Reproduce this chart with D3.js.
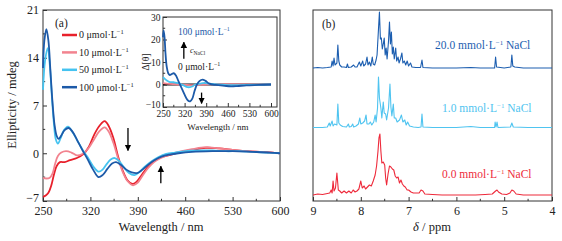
<!DOCTYPE html>
<html>
<head>
<meta charset="utf-8">
<script src="https://cdn.jsdelivr.net/npm/d3@7"></script>
<style>
  body { margin: 0; background: #fff; }
  svg { font-family: "Liberation Serif", "DejaVu Serif", serif; }
</style>
</head>
<body>
<svg id="chart" width="562" height="241"></svg>
<script>
// ---- CD spectra, main panel (wavelength nm, ellipticity mdeg) ----
var cd0 = [[250,-6.4],[254,-6.2],[258,-5.8],[262,-4.8],[266,-3.2],[270,-1.9],[275,-1.3],[282,-1.3],[290,-1.0],[300,-0.7],[310,-0.1],[318,1.0],[326,2.8],[334,4.1],[341,4.7],[347,4.0],[354,2.2],[361,-0.5],[368,-2.6],[375,-4.0],[382,-4.5],[388,-4.2],[395,-3.3],[403,-2.2],[412,-1.3],[422,-0.7],[435,-0.3],[450,0.1],[470,0.5],[490,0.8],[510,0.7],[530,0.5],[550,0.3],[575,0.2],[600,0.0]]
var cd10 = [[250,-3.6],[255,-3.7],[260,-3.6],[264,-3.0],[268,-1.5],[272,-0.4],[277,0.1],[284,0.3],[292,0.1],[300,-0.3],[308,-0.1],[316,0.6],[324,1.8],[333,3.2],[341,3.8],[347,3.2],[354,1.5],[361,-0.8],[368,-2.8],[375,-4.1],[383,-4.7],[390,-4.3],[397,-3.3],[405,-2.2],[414,-1.3],[424,-0.7],[436,-0.2],[450,0.2],[470,0.6],[490,0.9],[510,0.7],[530,0.5],[550,0.3],[575,0.2],[600,0.0]]
var cd50 = [[250,9.3],[253,13.5],[257,15.4],[260,13],[263,8.5],[266,4.5],[269,2.0],[272,1.4],[276,2.2],[281,3.4],[287,3.9],[293,3.2],[300,2.0],[308,0.6],[316,-0.6],[324,-1.9],[332,-2.7],[338,-2.4],[344,-1.6],[350,-0.9],[356,-0.7],[362,-1.1],[369,-2.0],[377,-2.9],[385,-3.2],[392,-2.8],[400,-2.0],[410,-1.2],[420,-0.6],[432,-0.1],[445,0.1],[460,0.3],[480,0.4],[500,0.4],[520,0.3],[540,0.3],[560,0.2],[580,0.1],[600,0.0]]
var cd100 = [[250,12.5],[252,16.5],[255,18.2],[258,16.5],[261,12],[264,7.5],[267,4.2],[270,2.6],[273,2.1],[277,2.6],[282,3.4],[288,3.7],[294,3.1],[300,2.0],[308,0.5],[316,-0.9],[324,-2.4],[332,-3.5],[338,-3.2],[345,-2.3],[352,-1.5],[358,-1.3],[365,-1.7],[373,-2.4],[381,-2.8],[389,-2.9],[397,-2.4],[405,-1.7],[415,-1.0],[425,-0.5],[437,-0.2],[450,0.0],[470,0.2],[500,0.3],[530,0.3],[560,0.2],[585,0.1],[600,0.0]]

// ---- inset: difference spectra ----
var ins0 = [[250,0],[600,0]]
var ins10 = [[250,0.6],[270,0.3],[300,0.0],[340,-0.3],[400,0.1],[600,0]]
var ins50 = [[250,3.3],[256,2.5],[262,1.8],[270,1.2],[285,1.0],[300,0.6],[315,-0.3],[330,-1.2],[342,-1.0],[355,0],[370,0.4],[385,0.7],[400,0.4],[430,0.1],[470,-0.3],[520,-0.2],[600,0]]
var ins100 = [[250,21],[252,24],[255,21],[258,14],[262,8],[267,5],[272,4.2],[278,4.6],[285,5.0],[292,4.0],[300,1.5],[310,-1.5],[320,-4.5],[330,-7.0],[338,-7.5],[345,-6.3],[352,-3],[360,0],[368,1.5],[378,2.2],[388,1.6],[400,0.4],[420,-0.2],[450,-0.6],[470,-0.8],[490,-0.7],[520,-0.4],[560,-0.2],[600,0]]

var cdLabels = ["0", "10", "50", "100"]
var cdColors = ["#e8202b", "#f2838f", "#45c3f0", "#1d5aa8"]
var wlTicks = [250, 320, 390, 460, 530, 600]
var cdTicks = [-7, 0, 7, 14, 21]
var insTicks = [-10, 0, 10, 20, 30]

// ---- 1H NMR spectra (ppm, intensity) ----
var nmrHigh = [[9.0,1],[8.9,1.5],[8.8,1],[8.7,1.5],[8.62,2],[8.6,8],[8.58,3],[8.56,11],[8.54,4],[8.5,6],[8.48,24],[8.46,8],[8.44,4],[8.4,2],[8.35,2],[8.3,1.5],[8.28,5],[8.26,1.5],[8.2,2],[8.15,4],[8.12,2],[8.08,2],[8.05,5],[8.03,7],[8.0,3],[7.96,8],[7.94,3],[7.9,5],[7.87,12],[7.85,4],[7.82,7],[7.79,3],[7.76,12],[7.74,5],[7.71,4],[7.68,9],[7.66,14],[7.63,40],[7.61,57],[7.59,30],[7.57,31],[7.55,20],[7.53,25],[7.51,31],[7.49,14],[7.47,21],[7.45,10],[7.42,28],[7.40,47],[7.38,25],[7.36,37],[7.34,15],[7.32,22],[7.30,10],[7.27,21],[7.25,8],[7.22,12],[7.2,6],[7.17,10],[7.14,16],[7.12,6],[7.09,8],[7.06,4],[7.03,8],[7.0,3],[6.96,6],[6.93,2],[6.85,1.5],[6.75,1.5],[6.72,9],[6.70,1.5],[6.5,1],[6.2,1],[6.0,1],[5.7,1.5],[5.5,1],[5.2,1],[5.18,12],[5.16,2],[5.0,1],[4.86,2],[4.84,14],[4.82,3],[4.78,2],[4.6,1],[4.3,1],[4.0,1]]
var nmrMid = [[9.0,0.5],[8.8,0.5],[8.7,1],[8.66,5],[8.64,2],[8.6,7],[8.58,2],[8.55,4],[8.5,3],[8.48,24],[8.46,5],[8.43,3],[8.38,1.5],[8.3,1],[8.26,4],[8.24,1],[8.2,1.5],[8.17,4],[8.15,1],[8.1,2],[8.05,4],[8.02,10],[8.0,4],[7.96,5],[7.92,7],[7.89,13],[7.87,4],[7.83,4],[7.8,6],[7.77,3],[7.73,6],[7.7,13],[7.68,6],[7.65,20],[7.63,51],[7.61,30],[7.58,20],[7.56,10],[7.53,26],[7.51,15],[7.48,14],[7.46,8],[7.42,20],[7.39,44],[7.37,21],[7.35,12],[7.32,24],[7.30,10],[7.27,10],[7.24,6],[7.19,8],[7.15,13],[7.12,6],[7.08,8],[7.05,3],[7.02,6],[6.98,2],[6.9,1],[6.8,0.5],[6.74,1],[6.72,14],[6.70,1],[6.5,0.5],[6.0,0.5],[5.7,1.5],[5.5,0.5],[5.2,0.5],[5.19,6],[5.17,1],[5.15,6],[5.13,0.5],[4.87,1],[4.84,5],[4.81,1],[4.5,0.5],[4.0,0.5]]
var nmrLow = [[9.0,1],[8.9,2],[8.8,1.5],[8.7,2.5],[8.65,3],[8.62,6],[8.6,3],[8.58,15],[8.56,5],[8.53,8],[8.5,23],[8.47,6],[8.44,5],[8.4,3],[8.35,5],[8.3,3],[8.25,5],[8.2,3],[8.16,6],[8.12,4],[8.08,5],[8.04,7],[8.0,15],[7.97,8],[7.93,10],[7.9,7],[7.86,9],[7.82,11],[7.78,10],[7.74,15],[7.7,21],[7.67,30],[7.64,45],[7.62,58],[7.60,62],[7.58,45],[7.56,33],[7.53,34],[7.5,31],[7.48,18],[7.46,11],[7.43,22],[7.40,30],[7.37,29],[7.34,27],[7.31,26],[7.28,20],[7.25,18],[7.22,19],[7.19,13],[7.16,16],[7.13,12],[7.1,10],[7.07,9],[7.03,6],[7.0,6],[6.95,4],[6.9,3],[6.85,3],[6.78,3],[6.74,6],[6.70,5],[6.66,2],[6.5,1.5],[6.3,1],[6.0,1],[5.8,1],[5.6,1],[5.4,1.5],[5.25,2],[5.18,5],[5.15,6],[5.12,4],[5.05,2],[4.95,1.5],[4.88,3],[4.84,6],[4.8,5],[4.75,2],[4.6,1],[4.3,1],[4.0,1]]
var nmrLabels = ["0.0", "1.0", "20.0"]
var nmrColors = ["#ee2a3b", "#4fc4f0", "#1c5eb0"]
var nmrOffsets = [0, 68, 127]
var ppmTicks = [9, 8, 7, 6, 5, 4]

const svg = d3.select("#chart");
const axisColor = "#333";

// ---------- panel (a) ----------
const x = d3.scaleLinear().domain([250, 600]).range([43, 280]);
const y = d3.scaleLinear().domain([-7, 21]).range([201, 10]);

const gA = svg.append("g");

function addInwardAxes(g, xs, ys, xt, yt, xMinor, yMinor, fs, pad) {
  const [x0, x1] = xs.range();
  const [y0, y1] = ys.range();
  // bottom axis, ticks pointing inward
  const bx = g.append("g").attr("transform", `translate(0,${y0})`)
    .call(d3.axisBottom(xs).tickValues(xt).tickSize(-4).tickPadding(pad + 1).tickFormat(d3.format("d")));
  bx.append("g").selectAll("line").data(xMinor).join("line")
    .attr("x1", d => xs(d)).attr("x2", d => xs(d)).attr("y1", 0).attr("y2", -2.2)
    .attr("stroke", axisColor);
  const ly = g.append("g").attr("transform", `translate(${x0},0)`)
    .call(d3.axisLeft(ys).tickValues(yt).tickSize(-4).tickPadding(pad)
      .tickFormat(d => d < 0 ? "\u2212" + Math.abs(d) : d));
  if (yMinor) ly.append("g").selectAll("line").data(yMinor).join("line")
    .attr("y1", d => ys(d)).attr("y2", d => ys(d)).attr("x1", 0).attr("x2", 2.2)
    .attr("stroke", axisColor);
  [bx, ly].forEach(a => {
    a.select(".domain").remove();
    a.selectAll(".tick line").attr("stroke", axisColor);
    a.selectAll("text").attr("font-family", "Liberation Serif").attr("font-size", fs).attr("fill", "#222");
  });
  // lowest y label sits a touch higher so it clears the first x label below it
  ly.selectAll(".tick").filter(d => d === yt[0]).select("text").attr("dy", "0.05em");
  return ly;
}

addInwardAxes(gA, x, y, wlTicks, cdTicks, d3.range(285, 600, 70), d3.range(-3.5, 21, 7), 12, 4);
gA.append("rect").attr("x", 43).attr("y", 10).attr("width", 237).attr("height", 191)
  .attr("fill", "none").attr("stroke", axisColor).attr("stroke-width", 1);

const lineA = d3.line().x(d => x(d[0])).y(d => y(d[1])).curve(d3.curveCatmullRom);
[cd0, cd10, cd50, cd100].forEach((s, i) => {
  gA.append("path").datum(s).attr("d", lineA).attr("fill", "none")
    .attr("stroke", cdColors[i]).attr("stroke-width", 1.8);
});

// arrows
svg.append("defs").append("marker").attr("id", "ah").attr("viewBox", "0 0 10 10")
  .attr("refX", 9).attr("refY", 5).attr("markerWidth", 5).attr("markerHeight", 6)
  .attr("orient", "auto").append("path").attr("d", "M0,0L10,5L0,10Z").attr("fill", "#000");
function arrow(g, xs, ys, wl, v0, v1) {
  g.append("line").attr("x1", xs(wl)).attr("x2", xs(wl)).attr("y1", ys(v0)).attr("y2", ys(v1))
    .attr("stroke", "#000").attr("stroke-width", 1.3).attr("marker-end", "url(#ah)");
}
arrow(gA, x, y, 375.5, 3.7, 0.4);
arrow(gA, x, y, 424, -4.4, -1.9);

// legend
const leg = gA.append("g");
cdLabels.forEach((lab, i) => {
  const ly = 35 + i * 17.4;
  leg.append("line").attr("x1", 62).attr("x2", 77).attr("y1", ly).attr("y2", ly)
    .attr("stroke", cdColors[i]).attr("stroke-width", 2.5);
  const t = leg.append("text").attr("x", 79).attr("y", ly + 3.3).attr("font-size", 10).attr("fill", "#222");
  t.append("tspan").text(lab + " \u03bcmol\u00b7L");
  t.append("tspan").attr("font-size", 6.5).attr("dy", -4).text("\u22121");
});
gA.append("text").attr("x", 55).attr("y", 27).attr("font-size", 11.5).attr("fill", "#222").text("(a)");

gA.append("text").attr("x", 161).attr("y", 231).attr("text-anchor", "middle")
  .attr("font-size", 12.5).attr("fill", "#222").text("Wavelength / nm");
gA.append("text").attr("transform", "translate(16,105) rotate(-90)").attr("text-anchor", "middle")
  .attr("font-size", 12.5).attr("fill", "#222").text("Ellipticity / mdeg");

// ---------- inset ----------
const xi = d3.scaleLinear().domain([250, 600]).range([163, 271]);
const yi = d3.scaleLinear().domain([-10, 30]).range([107, 17]);
const gI = svg.append("g");
gI.append("rect").attr("x", 163).attr("y", 17).attr("width", 114).attr("height", 90).attr("fill", "#fff");
addInwardAxes(gI, xi, yi, wlTicks, insTicks, d3.range(285, 600, 70), d3.range(-5, 30, 10), 9.5, 2.5);
gI.append("rect").attr("x", 163).attr("y", 17).attr("width", 114).attr("height", 90)
  .attr("fill", "none").attr("stroke", axisColor).attr("stroke-width", 1);
const lineI = d3.line().x(d => xi(d[0])).y(d => yi(d[1])).curve(d3.curveCatmullRom);
const insColors = ["#111", cdColors[1], cdColors[2], cdColors[3]];
[ins0, ins10, ins50, ins100].forEach((s, i) => {
  gI.append("path").datum(s).attr("d", lineI).attr("fill", "none")
    .attr("stroke", insColors[i]).attr("stroke-width", i === 0 ? 2 : 1.8);
});
arrow(gI, xi, yi, 317.5, 11.5, 18.8);
arrow(gI, xi, yi, 375, -3.6, -8.4);
const t100 = gI.append("text").attr("x", 178).attr("y", 35).attr("font-size", 9.5).attr("fill", cdColors[3]);
t100.append("tspan").text("100 \u03bcmol\u00b7L");
t100.append("tspan").attr("font-size", 6).attr("dy", -4).text("\u22121");
const tc = gI.append("text").attr("x", 190).attr("y", 53).attr("font-size", 8).attr("font-style", "italic").attr("fill", "#222");
tc.append("tspan").text("c");
tc.append("tspan").attr("font-size", 5.5).attr("dy", 2).attr("font-style", "normal").text("NaCl");
const t0 = gI.append("text").attr("x", 178).attr("y", 70).attr("font-size", 9.5).attr("fill", "#222");
t0.append("tspan").text("0 \u03bcmol\u00b7L");
t0.append("tspan").attr("font-size", 6).attr("dy", -4).text("\u22121");
gI.append("text").attr("x", 218).attr("y", 130).attr("text-anchor", "middle")
  .attr("font-size", 9).attr("fill", "#222").text("Wavelength / nm");
gI.append("text").attr("transform", "translate(149,62) rotate(-90)").attr("text-anchor", "middle")
  .attr("font-size", 9.5).attr("fill", "#222").text("\u0394[\u03b8]");

// ---------- panel (b) ----------
const xp = d3.scaleLinear().domain([9, 4]).range([313, 552]);
const yp = d3.scaleLinear().domain([-5, 186]).range([201, 10]);
const gB = svg.append("g");
const bAx = gB.append("g").attr("transform", "translate(0,201)")
  .call(d3.axisBottom(xp).tickValues(ppmTicks).tickSize(-4).tickPadding(5).tickFormat(d3.format("d")));
bAx.select(".domain").remove();
bAx.selectAll(".tick line").attr("stroke", axisColor);
bAx.selectAll("text").attr("font-family", "Liberation Serif").attr("font-size", 12).attr("fill", "#222");
bAx.append("g").selectAll("line").data(d3.range(8.5, 4, -1)).join("line")
  .attr("x1", d => xp(d)).attr("x2", d => xp(d)).attr("y1", 0).attr("y2", -2.2).attr("stroke", axisColor);
gB.append("rect").attr("x", 313).attr("y", 10).attr("width", 239).attr("height", 191)
  .attr("fill", "none").attr("stroke", axisColor).attr("stroke-width", 1);

[nmrLow, nmrMid, nmrHigh].forEach((s, i) => {
  const ln = d3.line().x(d => xp(d[0])).y(d => yp(d[1] + nmrOffsets[i]));
  gB.append("path").datum(s).attr("d", ln).attr("fill", "none")
    .attr("stroke", nmrColors[i]).attr("stroke-width", 1.1).attr("stroke-linejoin", "round");
});
const nmrLabelY = [178, 112, 49];
const nmrLabelX = [442, 442, 435];
nmrLabels.forEach((lab, i) => {
  const t = gB.append("text").attr("x", nmrLabelX[i]).attr("y", nmrLabelY[i])
    .attr("font-size", 11.5).attr("fill", nmrColors[i]);
  t.append("tspan").text(lab + " mmol\u00b7L");
  t.append("tspan").attr("font-size", 7).attr("dy", -4.5).text("\u22121");
  t.append("tspan").attr("dy", 4.5).text(" NaCl");
});
gB.append("text").attr("x", 322).attr("y", 28).attr("font-size", 11.5).attr("fill", "#222").text("(b)");
const xl = gB.append("text").attr("x", 432).attr("y", 231).attr("text-anchor", "middle")
  .attr("font-size", 12.5).attr("fill", "#222");
xl.append("tspan").attr("font-style", "italic").text("\u03b4");
xl.append("tspan").text(" / ppm");
</script>
</body>
</html>
